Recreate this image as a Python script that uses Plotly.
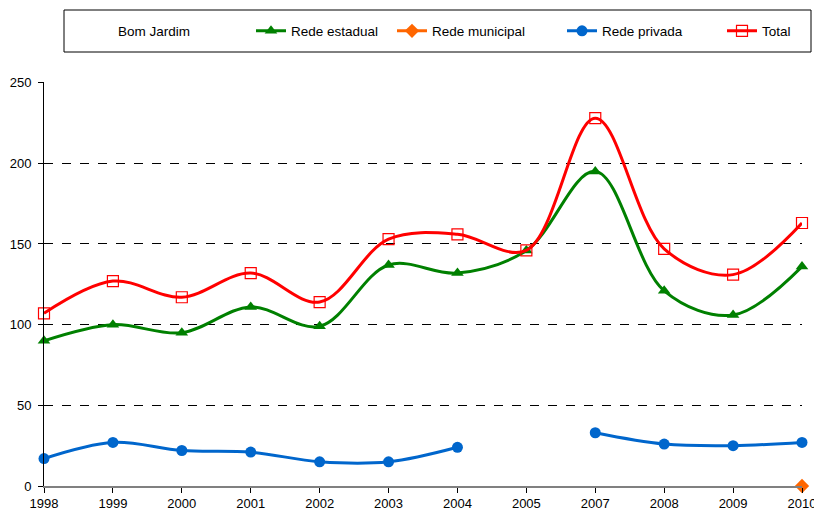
import plotly.graph_objects as go

anos = ["1998", "1999", "2000", "2001", "2002", "2003", "2004", "2005", "2007", "2008", "2009", "2010"]
rede_estadual = [90, 100, 95, 111, 99, 137, 132, 146, 195, 121, 106, 136]
rede_municipal = [None, None, None, None, None, None, None, None, None, None, None, 0]
rede_privada = [17, 27, 22, 21, 15, 15, 24, None, 33, 26, 25, 27]
total = [107, 127, 117, 132, 114, 153, 156, 146, 228, 147, 131, 163]

FONT = "Liberation Sans, Arial, sans-serif"

W, H = 814, 511
L, T = 44, 82
PW, PH = 758, 404


def px_x(x):
    return (x - L) / PW


def px_y(y):
    return (T + PH - y) / PH


fig = go.Figure()

# entrada vazia so para o titulo na legenda
fig.add_trace(go.Scatter(x=[None], y=[None], name="Bom Jardim", mode="lines", legend="legend",
                         line=dict(color="rgba(0,0,0,0)", width=0)))

fig.add_trace(go.Scatter(x=anos, y=rede_estadual, name="Rede estadual", mode="lines+markers",
                         legend="legend2",
                         line=dict(color="#008000", width=3, shape="spline", smoothing=1),
                         marker=dict(symbol="triangle-up", size=11, color="#008000")))
fig.add_trace(go.Scatter(x=anos, y=rede_municipal, name="Rede municipal", mode="lines+markers",
                         legend="legend3",
                         line=dict(color="#FF6600", width=3),
                         marker=dict(symbol="diamond", size=11, color="#FF6600")))
fig.add_trace(go.Scatter(x=anos, y=rede_privada, name="Rede privada", mode="lines+markers",
                         legend="legend4", connectgaps=False,
                         line=dict(color="#0066CC", width=3, shape="spline", smoothing=1),
                         marker=dict(symbol="circle", size=11, color="#0066CC")))
fig.add_trace(go.Scatter(x=anos, y=total, name="Total", mode="lines+markers", legend="legend5",
                         line=dict(color="#FF0000", width=3, shape="spline", smoothing=1),
                         marker=dict(symbol="square-open", size=11, color="#FF0000",
                                     line=dict(width=1.2))))

fig.update_traces(cliponaxis=False)

# uma legenda por serie para acertar o espacamento da caixa
leg_x = [78, 251, 392, 562, 722]
legendas = {}
for i, x in enumerate(leg_x):
    key = "legend" if i == 0 else f"legend{i + 1}"
    legendas[key] = dict(orientation="h", x=px_x(x), y=px_y(31), xanchor="left", yanchor="middle",
                         bgcolor="rgba(0,0,0,0)", font=dict(size=13.5))

fig.update_layout(
    width=W, height=H,
    margin=dict(l=L, r=W - L - PW, t=T, b=H - T - PH, autoexpand=False),
    paper_bgcolor="white", plot_bgcolor="white",
    font=dict(family=FONT, size=13, color="black"),
    showlegend=True,
    shapes=[dict(type="rect", xref="paper", yref="paper",
                 x0=px_x(64), x1=px_x(811), y0=px_y(52), y1=px_y(10),
                 line=dict(color="black", width=1), fillcolor="rgba(0,0,0,0)")],
    **legendas,
)

fig.update_xaxes(type="category", categoryorder="array", categoryarray=anos,
                 range=[0, 11], showgrid=False, showline=True, linecolor="#808080", linewidth=1.5,
                 ticks="outside", ticklen=5, tickcolor="black", zeroline=False)
fig.update_yaxes(range=[0, 250.4], tickvals=[0, 50, 100, 150, 200, 250], showgrid=True,
                 gridcolor="black", griddash="dash", gridwidth=1,
                 showline=True, linecolor="black", linewidth=1,
                 ticks="outside", ticklen=5, tickcolor="black", ticklabelstandoff=4,
                 zeroline=False)

# tira a margem padrao do body para a figura ocupar a janela inteira
fig.write_html("out.html", config={"displayModeBar": False},
               post_script="document.body.style.margin='0';")
